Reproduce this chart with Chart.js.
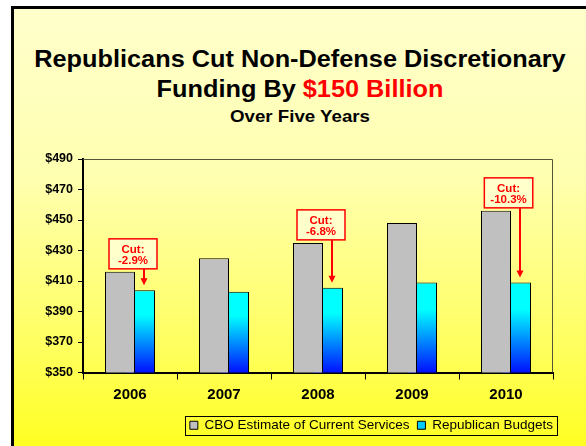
<!DOCTYPE html>
<html lang="en">
<head>
<meta charset="UTF-8">
<title>Non-Defense Discretionary Funding</title>
<script src="https://cdn.jsdelivr.net/npm/chart.js@4"></script>
<style>
    html, body { margin: 0; padding: 0; overflow: hidden; background: #fff; }
    body { font-family: "Liberation Sans", Arial, sans-serif; }
    #frame {
        position: absolute; left: 11px; top: 6px; width: 620px; height: 480px;
        border-left: 3px solid #000; border-top: 3px solid #000;
        background: linear-gradient(to bottom, #FFFFCC 0%, #FFFFB0 35%, #FFFF60 70%, #FFFF08 100%);
    }
    .title {
        position: absolute; left: 14px; width: 572px; text-align: center;
        font-weight: bold; color: #000; white-space: nowrap;
        transform: scaleX(1.1); transform-origin: center;
    }
    #t1 { top: 45px; font-size: 23px; line-height: 28px; }
    #t2 { top: 75px; font-size: 23px; line-height: 28px; }
    #t3 { top: 107px; font-size: 17px; line-height: 20px; }
    .red { color: #FF0000; }
    #wrap { position: absolute; left: 0; top: 0; width: 586px; height: 446px; }
</style>
</head>
<body>
<div id="frame"></div>
<div class="title" id="t1">Republicans Cut Non-Defense Discretionary</div>
<div class="title" id="t2">Funding By <span class="red">$150 Billion</span></div>
<div class="title" id="t3">Over Five Years</div>
<div id="wrap"><canvas id="chart"></canvas></div>
<script>
    const years = ['2006', '2007', '2008', '2009', '2010'];
    const cboEstimate = [416, 425, 435, 448, 456];
    const republicanBudgets = [404, 403, 405.5, 409, 409];
    const cutLabels = ['-2.9%', null, '-6.8%', null, '-10.3%'];
    const yTickValues = [350, 370, 390, 410, 430, 450, 470, 490];

    const FONT = '"Liberation Sans", Arial, sans-serif';

    // each cyan bar fades from cyan at its top to blue at the axis
    function cyanFill(context) {
        const chart = context.chart;
        const area = chart.chartArea;
        if (!area || context.raw == null) return '#00FFFF';
        const top = chart.scales.y.getPixelForValue(context.raw);
        const g = chart.ctx.createLinearGradient(0, top, 0, area.bottom);
        g.addColorStop(0, '#00FFFF');
        g.addColorStop(0.3, '#00FFFF');
        g.addColorStop(1, '#0010FF');
        return g;
    }

    // thin frame on the top and right of the plot
    const plotFrame = {
        id: 'plotFrame',
        beforeDatasetsDraw(chart) {
            const { ctx, chartArea: a } = chart;
            ctx.save();
            ctx.strokeStyle = '#55553a';
            ctx.lineWidth = 1;
            ctx.beginPath();
            ctx.moveTo(a.left, a.top + 0.5);
            ctx.lineTo(a.right - 0.5, a.top + 0.5);
            ctx.lineTo(a.right - 0.5, a.bottom);
            ctx.stroke();
            ctx.restore();
        }
    };

    // "Cut:" boxes with arrows pointing at the budget bars
    const cutCallouts = {
        id: 'cutCallouts',
        afterDatasetsDraw(chart) {
            const ctx = chart.ctx;
            const cbo = chart.getDatasetMeta(0).data;
            const rep = chart.getDatasetMeta(1).data;
            ctx.save();
            ctx.font = 'bold 11.5px ' + FONT;
            ctx.textAlign = 'center';
            ctx.textBaseline = 'middle';
            cutLabels.forEach(function (label, i) {
                if (!label) return;
                const arrowX = rep[i].x + 4;
                const tipY = rep[i].y - 5;
                const boxW = Math.max(48, ctx.measureText(label).width + 12);
                const boxH = 30;
                const boxBottom = cbo[i].y - 3;
                const boxTop = boxBottom - boxH;
                const cx = arrowX - 11 - (boxW - 48);
                const boxLeft = cx - boxW / 2;

                ctx.fillStyle = '#FFFFCC';
                ctx.fillRect(boxLeft, boxTop, boxW, boxH);
                ctx.strokeStyle = '#FF0000';
                ctx.lineWidth = 1.5;
                ctx.strokeRect(boxLeft, boxTop, boxW, boxH);

                ctx.fillStyle = '#FF0000';
                ctx.fillText('Cut:', cx, boxTop + 10.5);
                ctx.fillText(label, cx, boxTop + 21.5);

                ctx.lineWidth = 2;
                ctx.beginPath();
                ctx.moveTo(arrowX, boxBottom);
                ctx.lineTo(arrowX, tipY - 6);
                ctx.stroke();
                ctx.beginPath();
                ctx.moveTo(arrowX - 3.5, tipY - 7);
                ctx.lineTo(arrowX + 3.5, tipY - 7);
                ctx.lineTo(arrowX, tipY);
                ctx.closePath();
                ctx.fill();
            });
            ctx.restore();
        }
    };

    // legend sits a little right of the plot edge, inside a black box
    const legendFrame = {
        id: 'legendFrame',
        afterLayout(chart) {
            if (!chart.legend) return;
            chart.legend.left += 8;
            chart.legend.right += 8;
        },
        afterDraw(chart) {
            const boxes = chart.legend && chart.legend.legendHitBoxes;
            if (!boxes || !boxes.length) return;
            const left = Math.min.apply(null, boxes.map(b => b.left));
            const right = Math.max.apply(null, boxes.map(b => b.left + b.width));
            const top = Math.min.apply(null, boxes.map(b => b.top));
            const bottom = Math.max.apply(null, boxes.map(b => b.top + b.height));
            const ctx = chart.ctx;
            ctx.save();
            ctx.strokeStyle = '#000';
            ctx.lineWidth = 1;
            ctx.strokeRect(Math.round(left - 5) + 0.5, Math.round(top - 3) + 0.5,
                Math.round(right - left + 9), Math.round(bottom - top + 5));
            ctx.restore();
        }
    };

    const legendFills = ['#C0C0C0', '#00CCFF'];

    new Chart(document.getElementById('chart'), {
        type: 'bar',
        data: {
            labels: years,
            datasets: [{
                label: 'CBO Estimate of Current Services',
                data: cboEstimate,
                backgroundColor: '#C0C0C0',
                borderColor: '#000',
                borderWidth: 1,
                borderSkipped: 'bottom'
            }, {
                label: 'Republican Budgets',
                data: republicanBudgets,
                backgroundColor: cyanFill,
                borderColor: '#000',
                borderWidth: 1,
                borderSkipped: 'bottom'
            }]
        },
        options: {
            responsive: true,
            maintainAspectRatio: false,
            animation: false,
            categoryPercentage: 40 / 94,
            barPercentage: 1.5,
            layout: { padding: { top: 159, left: 10, right: 33, bottom: 4 } },
            plugins: {
                title: { display: false },
                tooltip: { enabled: false },
                legend: {
                    position: 'bottom',
                    align: 'end',
                    labels: {
                        boxWidth: 8,
                        boxHeight: 8,
                        padding: 8,
                        color: '#000',
                        font: { family: FONT, size: 13.5 },
                        generateLabels(chart) {
                            return chart.data.datasets.map(function (ds, i) {
                                return {
                                    text: ds.label,
                                    fillStyle: legendFills[i],
                                    strokeStyle: '#000',
                                    lineWidth: 1,
                                    datasetIndex: i
                                };
                            });
                        }
                    }
                }
            },
            scales: {
                x: {
                    ticks: { color: '#000', padding: 6, font: { family: FONT, size: 15, weight: 'bold' } },
                    grid: { offset: true, drawOnChartArea: false, tickLength: 7, color: '#000' },
                    border: { color: '#000', width: 2 },
                    afterFit(scale) { scale.height = 38; }
                },
                y: {
                    min: 350,
                    max: 490,
                    afterBuildTicks(scale) {
                        scale.ticks = yTickValues.map(v => ({ value: v }));
                    },
                    ticks: {
                        color: '#000',
                        padding: 5,
                        font: { family: FONT, size: 12.5, weight: 'bold' },
                        callback: v => '$' + v
                    },
                    grid: { drawOnChartArea: false, tickLength: 5, color: '#000' },
                    border: { color: '#000', width: 2 },
                    afterFit(scale) { scale.width = 73; }
                }
            }
        },
        plugins: [plotFrame, cutCallouts, legendFrame]
    });
</script>
</body>
</html>
